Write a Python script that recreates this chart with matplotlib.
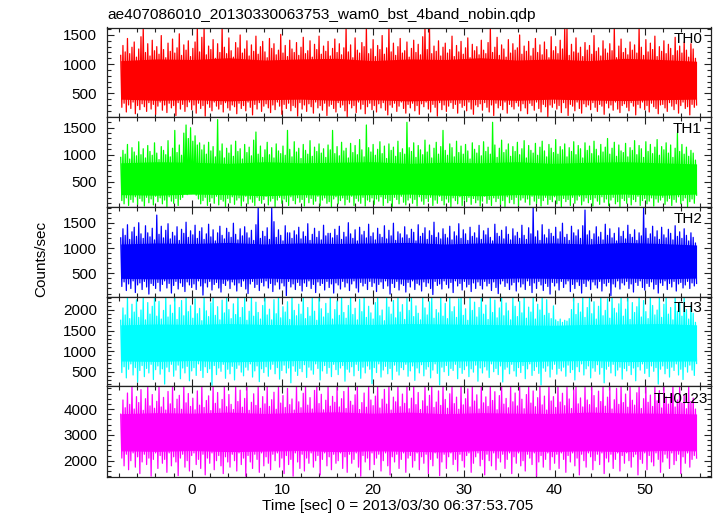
import numpy as np
import matplotlib
matplotlib.use('Agg')
import matplotlib.pyplot as plt
from matplotlib.ticker import MultipleLocator

plt.rcParams['font.family'] = ['Liberation Sans', 'DejaVu Sans']

title = "ae407086010_20130330063753_wam0_bst_4band_nobin.qdp"
xlabel = "Time [sec] 0 = 2013/03/30 06:37:53.705"
ylabel = "Counts/sec"

# light-curve sampled as (peak, trough) pairs per time step
t_start = -7.83
t_step = 0.2485

# ---------- TH0 ----------
th0_hi = [
 1150, 1320, 1210, 1440, 1180, 1290, 1380, 1120, 1260, 1470, 1640, 1200, 1350, 1140, 1410, 1230,
 1300, 1170, 1490, 1250, 1110, 1360, 1220, 1430, 1190, 1280, 1520, 1150, 1330, 1240, 1400, 1130,
 1270, 1380, 1640, 1210, 1460, 1640, 1160, 1310, 1250, 1420, 1100, 1350, 1200, 1640, 1290, 1180,
 1450, 1230, 1120, 1370, 1280, 1500, 1190, 1260, 1400, 1140, 1330, 1220, 1480, 1170, 1300, 1390,
 1210, 1110, 1440, 1270, 1350, 1160, 1240, 1510, 1190, 1320, 1130, 1410, 1260, 1200, 1370, 1150,
 1290, 1460, 1180, 1230, 1400, 1120, 1340, 1250, 1480, 1170, 1310, 1220, 1390, 1140, 1270, 1430,
 1200, 1350, 1160, 1280, 1640, 1210, 1330, 1110, 1450, 1240, 1190, 1370, 1300, 1640, 1180, 1260,
 1420, 1130, 1320, 1250, 1490, 1170, 1280, 1640, 1210, 1360, 1150, 1300, 1440, 1190, 1230, 1380,
 1120, 1270, 1410, 1200, 1340, 1160, 1470, 1640, 1250, 1640, 1180, 1310, 1220, 1400, 1140, 1290,
 1360, 1190, 1250, 1480, 1130, 1320, 1210, 1390, 1170, 1280, 1450, 1110, 1340, 1230, 1300, 1160,
 1410, 1240, 1180, 1370, 1640, 1200, 1290, 1460, 1150, 1330, 1260, 1120, 1420, 1190, 1350, 1240,
 1280, 1500, 1170, 1310, 1220, 1390, 1140, 1270, 1440, 1200, 1330, 1160, 1380, 1250, 1110, 1470,
 1230, 1300, 1180, 1410, 1260, 1640, 1640, 1150, 1340, 1210, 1450, 1190, 1290, 1130, 1370, 1240,
 1320, 1170, 1490, 1220, 1280, 1140, 1400, 1260, 1190, 1350, 1230, 1640, 1110, 1310, 1430, 1200,
 1270, 1160, 1380, 1240, 1330, 1190, 1640, 1290, 1150, 1420, 1210, 1360, 1250, 1480, 1130, 1300,
 1220, 1400, 1180, 1340, 1270, 1150, 1460, 1230, 1310, 1190, 1380, 1240, 1120, 1350, 1260, 1100]
th0_lo = [
 260, 330, 180, 300, 240, 350, 150, 290, 220, 320, 270, 190, 340, 230, 310, 140,
 280, 350, 210, 300, 170, 330, 250, 290, 120, 340, 230, 310, 190, 270, 350, 220,
 300, 160, 330, 240, 290, 110, 320, 260, 200, 350, 280, 230, 310, 180, 340, 250,
 210, 300, 270, 150, 330, 240, 290, 200, 350, 260, 130, 310, 230, 340, 190, 280,
 320, 250, 170, 300, 220, 350, 280, 140, 310, 240, 330, 200, 290, 260, 110, 340,
 230, 300, 190, 320, 270, 160, 350, 250, 290, 210, 330, 120, 280, 310, 240, 180,
 340, 260, 300, 200, 100, 320, 250, 290, 170, 350, 230, 310, 150, 270, 330, 220,
 290, 180, 320, 250, 340, 210, 130, 300, 260, 330, 190, 280, 350, 240, 160, 310,
 250, 330, 200, 290, 140, 320, 270, 350, 230, 180, 310, 260, 110, 340, 220, 300,
 190, 280, 340, 240, 310, 160, 330, 260, 290, 200, 350, 230, 140, 300, 270, 320,
 210, 340, 260, 180, 300, 120, 330, 250, 290, 220, 350, 160, 310, 270, 230, 340,
 280, 200, 320, 250, 150, 330, 290, 210, 350, 240, 180, 310, 270, 100, 300, 260,
 330, 230, 290, 170, 340, 250, 120, 310, 280, 200, 350, 240, 160, 320, 270, 300,
 220, 340, 260, 190, 310, 280, 140, 330, 250, 300, 210, 350, 230, 170, 290, 320,
 260, 200, 340, 280, 130, 310, 250, 350, 220, 290, 180, 330, 270, 240, 150, 300,
 310, 250, 190, 340, 280, 220, 320, 160, 290, 350, 240, 270, 130, 310, 260, 300]
th0_core_hi = [1060, 1090, 1080, 1110, 1070, 1090, 1100, 1060, 1090, 1080, 1110, 1070, 1090, 1060, 1100, 1080, 1050]
th0_core_lo = [400, 380, 390, 370, 390, 400, 380, 390, 370, 385, 395, 380, 400, 385, 375, 390, 400]

# ---------- TH1 ----------
th1_hi = [
 950, 1080, 1010, 1190, 920, 1130, 1050, 980, 1240, 1000, 1110, 940, 1170, 1060, 990, 1220,
 1030, 910, 1150, 1080, 1000, 1260, 960, 1120, 1450, 1040, 1180, 990, 1400, 1550, 1300, 1500,
 1250, 1350, 1180, 1220, 1090, 1180, 1010, 1230, 1070, 1150, 960, 1650, 1070, 1200, 940, 1120,
 1030, 1180, 970, 1250, 1060, 1110, 920, 1190, 1040, 1140, 980, 1270, 1420, 1010, 1160, 950,
 1090, 1230, 1000, 1130, 940, 1200, 1070, 1020, 1160, 990, 1450, 1100, 960, 1240, 1050, 1120,
 930, 1190, 1080, 1010, 1260, 970, 1140, 1060, 1200, 1030, 1110, 950, 1180, 1090, 1450, 1020,
 1150, 980, 1230, 1070, 1120, 940, 1210, 1040, 1170, 1000, 1280, 1090, 960, 1550, 1130, 1050,
 1190, 990, 1100, 1240, 1020, 1160, 930, 1200, 1080, 1140, 970, 1250, 1040, 1110, 1010, 1600,
 1130, 1060, 1220, 950, 1170, 1090, 1000, 1270, 1050, 1180, 940, 1120, 1230, 1010, 1150, 1450,
 1080, 990, 1200, 1130, 960, 1250, 1040, 1160, 1010, 1190, 1070, 920, 1220, 1100, 1030, 1170,
 980, 1240, 1060, 1140, 1010, 1600, 1180, 950, 1120, 1270, 1040, 1090, 1200, 970, 1150, 1060,
 1230, 1000, 1110, 1260, 940, 1170, 1080, 1030, 1210, 990, 1140, 1250, 1070, 960, 1190, 1120,
 1040, 1280, 1010, 1150, 1090, 1200, 960, 1130, 1060, 1240, 1000, 1170, 1110, 940, 1220, 1080,
 1160, 1020, 1250, 1100, 980, 1190, 1050, 1140, 1300, 1010, 1120, 1230, 970, 1180, 1070, 1040,
 1210, 960, 1130, 1080, 1260, 1000, 1170, 1110, 950, 1240, 1060, 1190, 1020, 1140, 1280, 990,
 1150, 1090, 1220, 1030, 1180, 950, 1120, 1400, 1060, 1190, 1010, 1140, 970, 1080, 1030, 900]
th1_lo = [
 150, 90, 200, 60, 170, 120, 220, 80, 190, 140, 50, 210, 110, 180, 70, 230,
 130, 200, 90, 160, 40, 220, 140, 100, 190, 60, 170, 210, 300, 260, 340, 280,
 320, 250, 180, 90, 150, 210, 60, 130, 200, 100, 230, 70, 170, 140, 40, 190,
 110, 220, 80, 160, 200, 50, 140, 230, 90, 180, 120, 60, 210, 150, 100, 170,
 230, 70, 140, 190, 40, 160, 210, 100, 180, 130, 60, 220, 150, 90, 200, 120,
 170, 50, 210, 110, 190, 80, 140, 230, 60, 160, 200, 100, 130, 40, 180, 220,
 90, 150, 200, 70, 170, 120, 230, 60, 190, 140, 100, 210, 50, 160, 130, 200,
 80, 180, 140, 220, 60, 190, 110, 150, 40, 210, 170, 90, 230, 120, 70, 160,
 200, 100, 170, 50, 220, 140, 80, 190, 130, 210, 60, 160, 100, 230, 150, 70,
 180, 120, 40, 200, 150, 90, 220, 60, 170, 130, 210, 80, 190, 110, 160, 50,
 140, 230, 100, 170, 60, 200, 130, 190, 80, 150, 40, 220, 110, 170, 90, 210,
 60, 160, 200, 120, 180, 70, 230, 140, 100, 190, 50, 150, 210, 80, 170, 130,
 220, 90, 150, 40, 190, 130, 170, 60, 210, 100, 160, 230, 70, 140, 200, 110,
 170, 50, 200, 140, 80, 220, 120, 180, 60, 160, 210, 90, 130, 40, 190, 150,
 100, 210, 70, 170, 130, 230, 60, 150, 190, 90, 140, 200, 50, 180, 120, 160,
 210, 80, 140, 190, 60, 170, 120, 220, 90, 150, 200, 40, 130, 180, 100, 250]
th1_core_hi = [850, 870, 860, 840, 870, 850, 860, 870, 840, 860, 850, 870, 840, 860, 870, 850, 830]
th1_core_lo = [260, 250, 270, 260, 240, 260, 250, 260, 270, 250, 240, 260, 250, 260, 270, 250, 270]

# ---------- TH2 ----------
th2_hi = [
 1200, 1380, 1250, 1460, 1170, 1320, 1410, 1230, 1500, 1280, 1190, 1440, 1300, 1220, 1390, 1160,
 1650, 1270, 1430, 1200, 1350, 1480, 1180, 1310, 1240, 1420, 1150, 1370, 1290, 1510, 1210, 1340,
 1260, 1450, 1190, 1330, 1400, 1170, 1280, 1470, 1220, 1360, 1140, 1300, 1430, 1250, 1180, 1390,
 1310, 1210, 1490, 1270, 1160, 1380, 1240, 1420, 1300, 1200, 1350, 1150, 1460, 1810, 1190, 1330,
 1230, 1400, 1170, 1790, 1520, 1210, 1360, 1250, 1140, 1440, 1300, 1300, 1190, 1340, 1260, 1410,
 1180, 1320, 1230, 1480, 1150, 1270, 1390, 1210, 1330, 1160, 1450, 1240, 1290, 1290, 1200, 1370,
 1250, 1430, 1170, 1310, 1220, 1500, 1280, 1190, 1360, 1140, 1410, 1260, 1330, 1200, 1470, 1230,
 1300, 1160, 1390, 1270, 1210, 1440, 1180, 1350, 1240, 1490, 1150, 1320, 1280, 1200, 1420, 1260,
 1190, 1370, 1310, 1140, 1460, 1230, 1290, 1400, 1170, 1340, 1250, 1510, 1210, 1300, 1180, 1380,
 1270, 1200, 1430, 1160, 1320, 1240, 1480, 1190, 1360, 1280, 1150, 1410, 1230, 1300, 1200, 1450,
 1170, 1340, 1260, 1390, 1210, 1140, 1470, 1290, 1230, 1350, 1180, 1420, 1270, 1160, 1380, 1240,
 1310, 1190, 1450, 1250, 1170, 1400, 1280, 1790, 1220, 1340, 1150, 1460, 1260, 1200, 1370, 1290,
 1230, 1410, 1180, 1320, 1490, 1210, 1270, 1150, 1430, 1300, 1240, 1360, 1190, 1440, 1750, 1260,
 1340, 1170, 1280, 1420, 1220, 1310, 1160, 1470, 1250, 1380, 1200, 1290, 1140, 1400, 1230, 1330,
 1180, 1450, 1270, 1210, 1360, 1150, 1300, 1240, 1800, 1390, 1190, 1280, 1430, 1220, 1340, 1170,
 1410, 1260, 1200, 1370, 1290, 1160, 1440, 1230, 1320, 1190, 1380, 1250, 1140, 1300, 1210, 1100]
th2_lo = [
 240, 330, 160, 290, 200, 350, 120, 270, 310, 180, 340, 230, 90, 300, 260, 200,
 320, 150, 280, 350, 210, 300, 110, 260, 340, 190, 310, 240, 140, 330, 270, 220,
 290, 180, 350, 250, 70, 310, 230, 340, 170, 280, 320, 210, 130, 300, 260, 350,
 200, 330, 270, 150, 310, 240, 350, 190, 100, 290, 340, 220, 280, 160, 320, 250,
 350, 210, 300, 140, 270, 330, 190, 310, 250, 60, 340, 230, 290, 180, 320, 260,
 150, 310, 240, 350, 200, 280, 120, 330, 260, 300, 170, 340, 220, 290, 110, 310,
 270, 190, 340, 230, 310, 160, 290, 350, 210, 130, 320, 250, 300, 180, 340, 240,
 310, 140, 280, 330, 200, 350, 250, 90, 300, 220, 340, 170, 290, 260, 130, 320,
 230, 350, 180, 300, 270, 150, 330, 240, 310, 200, 80, 340, 260, 290, 190, 350,
 280, 210, 320, 120, 350, 250, 300, 170, 340, 230, 280, 140, 310, 200, 330, 260,
 190, 340, 250, 300, 160, 330, 220, 100, 290, 350, 240, 310, 180, 270, 320, 150,
 330, 230, 290, 180, 350, 260, 120, 310, 200, 340, 270, 160, 300, 240, 90, 320,
 250, 310, 170, 340, 220, 290, 350, 140, 280, 200, 330, 260, 110, 300, 240, 350,
 180, 330, 270, 210, 340, 150, 300, 250, 320, 60, 290, 230, 350, 190, 310, 270,
 340, 200, 290, 130, 320, 260, 350, 220, 170, 300, 240, 330, 190, 280, 110, 310,
 260, 350, 180, 300, 230, 340, 150, 290, 320, 210, 270, 340, 200, 310, 250, 300]
th2_core_hi = [1080, 1100, 1090, 1110, 1080, 1100, 1090, 1100, 1110, 1080, 1100, 1090, 1100, 1080, 1110, 1090, 1060]
th2_core_lo = [400, 390, 400, 385, 405, 390, 400, 405, 385, 400, 390, 405, 400, 385, 405, 390, 405]

# ---------- TH3 ----------
th3_hi = [
 1750, 2050, 1880, 2320, 1790, 2140, 1950, 2250, 1820, 2000, 2320, 1760, 2180, 1900, 2090, 2320,
 1850, 2210, 1780, 1990, 2300, 1830, 2120, 1920, 2320, 1770, 2060, 2230, 1860, 2320, 1960, 2100,
 1800, 2270, 1910, 2040, 1740, 2320, 1980, 1840, 2170, 2320, 1870, 2080, 1760, 2240, 1930, 2320,
 2010, 1790, 2150, 1890, 2320, 1820, 2060, 2280, 1750, 1970, 2320, 1850, 2190, 1940, 1780, 2110,
 2320, 1880, 2020, 1760, 2250, 1910, 2320, 1810, 2080, 1950, 2200, 1770, 2320, 1990, 1860, 2140,
 1900, 2320, 1790, 2060, 1850, 2290, 1970, 1750, 2320, 2030, 1830, 2160, 1920, 2320, 1780, 2010,
 2220, 1870, 2320, 1940, 1800, 2110, 2320, 1890, 2040, 1760, 2260, 1960, 2320, 1820, 2090, 1930,
 1780, 2180, 2320, 1860, 2000, 1740, 2320, 2070, 1900, 2230, 1810, 2320, 1950, 2130, 1770, 2280,
 1990, 2320, 1840, 2100, 1920, 1760, 2320, 2050, 1880, 2200, 2320, 1800, 2010, 1930, 2320, 1850,
 2160, 1790, 2320, 1960, 2080, 1820, 2270, 2320, 1870, 2030, 1750, 2320, 1990, 2190, 1830, 2060,
 2320, 1900, 2120, 1770, 2320, 1940, 2240, 1810, 2050, 2320, 1860, 2170, 1980, 1760, 2320, 2090,
 1840, 2210, 1930, 2320, 1800, 2070, 1950, 2320, 1780, 2140, 2000, 2320, 1870, 2250, 1920, 1790,
 2100, 1760, 1720, 1780, 1700, 1750, 1730, 1790, 2010, 2320, 1890, 2160, 1950, 2320, 1820, 2060,
 2320, 1910, 2200, 1780, 2090, 2320, 1860, 1990, 2270, 1800, 2320, 2040, 1930, 2150, 2320, 1850,
 2020, 2320, 1770, 2180, 1940, 2080, 2320, 1830, 2230, 1960, 1790, 2320, 2110, 1880, 2000, 2320,
 1820, 2140, 2320, 1900, 2060, 1760, 2320, 1970, 2190, 1850, 2320, 2010, 1780, 2100, 1920, 1700]
th3_lo = [
 480, 620, 350, 560, 690, 420, 600, 250, 530, 650, 380, 580, 470, 680, 310, 550,
 640, 440, 570, 200, 610, 500, 680, 390, 540, 660, 330, 590, 470, 630, 280, 520,
 600, 410, 690, 530, 360, 620, 480, 570, 170, 650, 430, 590, 510, 680, 340, 560,
 450, 630, 300, 580, 660, 490, 400, 610, 540, 690, 370, 520, 640, 260, 570, 480,
 620, 390, 560, 680, 450, 600, 320, 530, 660, 470, 590, 230, 640, 510, 410, 580,
 500, 670, 360, 610, 540, 440, 690, 580, 300, 520, 650, 460, 600, 380, 680, 550,
 430, 590, 650, 270, 560, 490, 620, 400, 680, 530, 340, 610, 470, 640, 560, 210,
 600, 480, 690, 370, 540, 630, 450, 580, 310, 660, 510, 420, 600, 550, 680, 390,
 520, 640, 290, 590, 470, 670, 400, 560, 620, 350, 540, 690, 460, 180, 610, 500,
 650, 410, 580, 530, 680, 330, 600, 460, 550, 640, 380, 570, 490, 660, 270, 590,
 470, 620, 540, 360, 690, 500, 580, 430, 640, 250, 560, 610, 450, 680, 520, 390,
 600, 480, 650, 330, 570, 690, 410, 530, 620, 460, 180, 590, 510, 640, 370, 560,
 680, 440, 580, 520, 610, 390, 660, 480, 550, 300, 620, 500, 690, 420, 570, 640,
 350, 590, 510, 670, 440, 600, 230, 560, 630, 470, 680, 400, 540, 610, 320, 580,
 520, 650, 430, 590, 280, 620, 540, 690, 460, 580, 380, 640, 510, 600, 200, 560,
 640, 450, 580, 370, 610, 530, 690, 420, 560, 310, 620, 490, 660, 540, 410, 700]
th3_core_hi = [1640, 1660, 1650, 1670, 1650, 1640, 1660, 1650, 1670, 1660, 1650, 1640, 1630, 1650, 1660, 1670, 1640]
th3_core_lo = [760, 750, 770, 740, 755, 770, 745, 760, 740, 755, 765, 745, 760, 770, 745, 755, 760]

# ---------- TH0123 ----------
th0123_hi = [
 3800, 4350, 4050, 4620, 4180, 4890, 4000, 4480, 4250, 4750, 3950, 4400, 4890, 4120, 4560, 4030,
 4300, 4890, 4080, 4450, 3960, 4680, 4200, 4890, 4020, 4380, 4530, 3990, 4890, 4240, 4600, 4100,
 4420, 3970, 4700, 4150, 4890, 4060, 4330, 4510, 3940, 4890, 4220, 4640, 4010, 4370, 4890, 4090,
 4560, 4180, 3980, 4890, 4290, 4730, 4070, 4410, 4890, 3950, 4260, 4590, 4140, 4890, 4030, 4480,
 4200, 4890, 4100, 4360, 4650, 3990, 4890, 4230, 4520, 4060, 4800, 4170, 4390, 3960, 4890, 4280,
 4050, 4610, 4890, 4150, 4440, 4000, 4720, 4890, 4210, 4570, 3970, 4340, 4890, 4110, 4490, 4260,
 4890, 4080, 4400, 4680, 4020, 4890, 4300, 4150, 4550, 4890, 3980, 4250, 4620, 4070, 4890, 4350,
 4130, 4500, 4890, 4040, 4380, 4760, 4190, 4890, 3960, 4460, 4280, 4890, 4090, 4580, 4220, 4890,
 4010, 4420, 4890, 4170, 4640, 3980, 4320, 4890, 4110, 4530, 4890, 4060, 4270, 4700, 4140, 4890,
 4370, 4030, 4590, 4890, 4210, 4460, 3990, 4890, 4160, 4400, 4780, 4080, 4890, 4310, 4550, 4000,
 4890, 4240, 4470, 4100, 4890, 4330, 4670, 3970, 4520, 4890, 4190, 4410, 4050, 4890, 4280, 4620,
 4120, 4890, 4380, 4010, 4560, 4890, 4230, 4700, 4090, 4440, 4890, 4160, 4500, 3960, 4890, 4310,
 4480, 4060, 4890, 4270, 4610, 4130, 4890, 4390, 4020, 4740, 4890, 4200, 4430, 4080, 4890, 4350,
 4170, 4890, 4520, 4050, 4690, 4290, 4890, 4110, 4460, 4890, 4000, 4360, 4800, 4180, 4890, 4250,
 4580, 4070, 4890, 4340, 4150, 4630, 4890, 4020, 4400, 4890, 4260, 4540, 4100, 4890, 4320, 4710,
 4040, 4890, 4470, 4190, 4600, 4890, 4080, 4350, 4890, 4230, 4560, 4010, 4890, 4290, 4420, 4000]
th0123_lo = [
 2100, 1800, 2250, 1650, 2000, 2300, 1750, 2150, 1500, 1950, 2250, 1850, 2100, 1400, 2050, 2300,
 1700, 2200, 1900, 2050, 1550, 2300, 1800, 2150, 1950, 1420, 2100, 2250, 1750, 2000, 1600, 2200,
 2300, 1850, 2050, 1700, 2250, 1450, 2100, 1900, 2300, 1650, 2000, 2200, 1800, 1500, 2150, 1950,
 1750, 2250, 2000, 1600, 2300, 1850, 2100, 1400, 2200, 1950, 1700, 2250, 2050, 1550, 2300, 1800,
 2150, 1900, 1650, 2250, 2000, 2300, 1750, 2100, 1500, 2200, 1850, 2050, 1400, 2300, 1950, 1700,
 2250, 1600, 2100, 1900, 2300, 1750, 2000, 2200, 1450, 2050, 2300, 1800, 2150, 1650, 2250, 1900,
 2000, 2300, 1700, 2150, 1550, 2250, 1900, 2050, 2300, 1750, 1400, 2200, 1950, 2100, 1650, 2300,
 1850, 2100, 2250, 1600, 2000, 2300, 1800, 1450, 2150, 1950, 2250, 1700, 2050, 2300, 1550, 2100,
 2200, 1750, 2000, 2300, 1650, 2150, 1900, 2250, 1500, 2050, 1800, 2300, 2100, 1420, 1950, 2250,
 1700, 2150, 2300, 1850, 2050, 1600, 2250, 2000, 1750, 2200, 2300, 1550, 1900, 2150, 2300, 1800,
 2050, 1450, 2250, 2000, 1800, 2300, 1650, 2100, 1950, 2250, 1700, 2050, 2300, 1500, 2150, 1900,
 2300, 1800, 2000, 1600, 2250, 2100, 1850, 2300, 1400, 1950, 2200, 1750, 2050, 2300, 1650, 2150,
 1900, 2250, 1700, 2300, 2050, 1550, 2200, 1950, 2300, 1800, 2100, 1450, 2250, 2000, 1750, 2300,
 2150, 1650, 2000, 2250, 1850, 2300, 1500, 2100, 1950, 2250, 1700, 2050, 2300, 1600, 2200, 1900,
 2300, 2000, 1750, 2150, 2250, 1450, 2050, 1900, 2300, 1650, 2200, 1950, 1800, 2300, 2050, 1550,
 1950, 2250, 2100, 1700, 2300, 1850, 2000, 2250, 1500, 2150, 1900, 2300, 1750, 2050, 2200, 2100]
th0123_core_hi = [3820, 3860, 3840, 3880, 3830, 3870, 3890, 3840, 3880, 3820, 3860, 3840, 3830, 3880, 3850, 3840, 3810]
th0123_core_lo = [2380, 2360, 2390, 2350, 2370, 2390, 2350, 2380, 2360, 2340, 2390, 2370, 2360, 2380, 2350, 2390, 2380]

names = ["TH0", "TH1", "TH2", "TH3", "TH0123"]
colors = ["#ff0000", "#00ff00", "#0000ff", "#00ffff", "#ff00ff"]
his = [th0_hi, th1_hi, th2_hi, th3_hi, th0123_hi]
los = [th0_lo, th1_lo, th2_lo, th3_lo, th0123_lo]
core_his = [th0_core_hi, th1_core_hi, th2_core_hi, th3_core_hi, th0123_core_hi]
core_los = [th0_core_lo, th1_core_lo, th2_core_lo, th3_core_lo, th0123_core_lo]
ylims = [(94, 1628), (37, 1698), (38, 1816), (153, 2323), (1380, 4891)]
ymajor = [500, 500, 500, 500, 1000]
yminor = [100, 100, 100, 100, 200]

for h, l in zip(his, los):
    assert len(h) == 256 and len(l) == 256, (len(h), len(l))

W, H = 717, 516
fig = plt.figure(figsize=(W / 100, H / 100), dpi=100)
edges = [27.5, 117, 206.7, 296.7, 386, 476.7]
label_right = [702.3, 701.7, 702.7, 702.7, 707.7]
label_base = [43.3, 133.3, 222.7, 312.3, 403.3]
x_left, x_right = 107, 710.7
spine_c = "#222222"
fs = 11

for k in range(5):
    top, bot = edges[k], edges[k + 1]
    ax = fig.add_axes([x_left / W, 1 - bot / H, (x_right - x_left) / W, (bot - top) / H])
    hi = np.array(his[k], dtype=float)
    lo = np.array(los[k], dtype=float)
    n = len(hi)
    t = t_start + t_step * np.arange(n)
    tz = np.empty(2 * n)
    vz = np.empty(2 * n)
    tz[0::2] = t
    tz[1::2] = t + t_step / 2
    vz[0::2] = hi
    vz[1::2] = lo
    tc = np.linspace(tz[0], tz[-1], len(core_his[k]))
    ax.fill_between(tc, core_los[k], core_his[k], color=colors[k], lw=0)
    ax.plot(tz, vz, color=colors[k], lw=0.9)
    ax.set_xlim(-9.34, 57.22)
    ax.set_ylim(*ylims[k])
    ax.xaxis.set_major_locator(MultipleLocator(10))
    ax.xaxis.set_minor_locator(MultipleLocator(2))
    ax.yaxis.set_major_locator(MultipleLocator(ymajor[k]))
    ax.yaxis.set_minor_locator(MultipleLocator(yminor[k]))
    ax.tick_params(which='both', direction='in', top=True, right=True, color=spine_c, width=0.8)
    ax.tick_params(which='major', length=4.8)
    ax.tick_params(which='minor', length=2.6)
    ax.tick_params(axis='y', labelsize=fs, pad=7)
    ax.tick_params(axis='x', labelsize=fs, pad=4.3)
    for s in ax.spines.values():
        s.set_color(spine_c)
        s.set_linewidth(0.9)
    if k < 4:
        ax.tick_params(axis='x', labelbottom=False)
    fig.text(label_right[k] / W, 1 - label_base[k] / H, names[k], ha='right', va='baseline', fontsize=fs)

fig.text(107 / W, 1 - 19.5 / H, title, ha='left', va='baseline', fontsize=11.1)
fig.text(41.7 / W, 1 - 259 / H, ylabel, rotation=90, ha='center', va='center', fontsize=fs)
fig.text(397.5 / W, 1 - 506 / H, xlabel, ha='center', va='center', fontsize=11.1)

fig.savefig("out.png", dpi=100)
